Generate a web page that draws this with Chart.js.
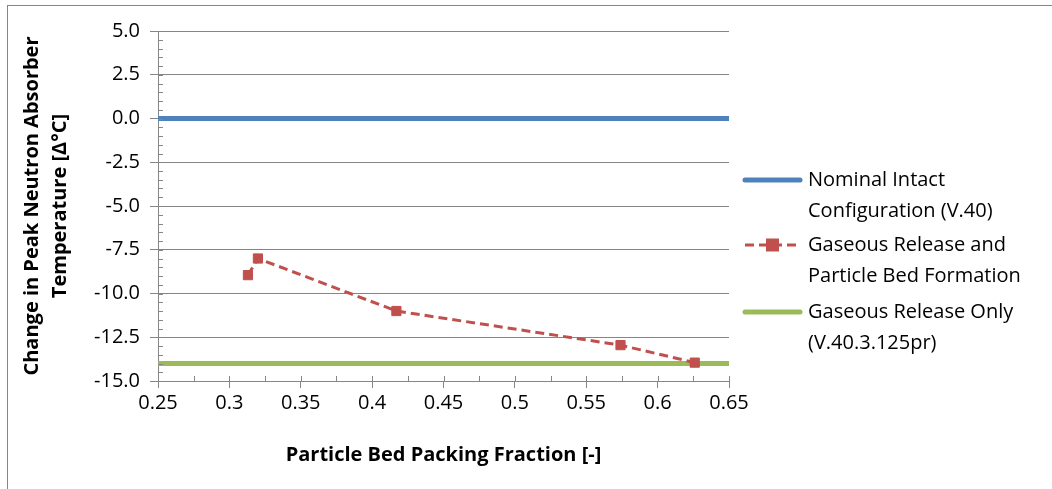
<!DOCTYPE html>
<html>
<head>
<meta charset="utf-8">
<script src="https://cdn.jsdelivr.net/npm/chart.js@4"></script>
<style>
	body { margin: 0; background: #fff; overflow: hidden; }
	#wrap { position: absolute; left: 0; top: 0; width: 1052px; height: 489px; }
	#frame { position: absolute; left: 7px; top: 5px; width: 1100px; height: 600px; border: 1.5px solid #868686; }
</style>
</head>
<body>
<div id="frame"></div>
<div id="wrap"><canvas id="chart"></canvas></div>
<script>
// values
const packingFraction = [0.313, 0.320, 0.417, 0.574, 0.626];
const bedFormationDelta = [-8.95, -8.0, -11.0, -12.95, -13.95];
const nominalX = [0.25, 0.65];
const nominalDelta = [0, 0];
const gasOnlyX = [0.25, 0.65];
const gasOnlyDelta = [-14, -14];

const legendText = [
	['Nominal Intact', 'Configuration (V.40)'],
	['Gaseous Release and', 'Particle Bed Formation'],
	['Gaseous Release Only', '(V.40.3.125pr)'],
];

const FONT = "'Open Sans', sans-serif";
const GRID = '#868686';

const toPoints = (xs, ys) => xs.map((x, i) => ({ x: x, y: ys[i] }));

// minor ticks like the spreadsheet axes
const minorTicks = {
	id: 'minorTicks',
	afterDraw(chart) {
		const ctx = chart.ctx;
		const xs = chart.scales.x, ys = chart.scales.y;
		const ax = xs.left, ay = ys.bottom;
		ctx.save();
		ctx.strokeStyle = GRID;
		ctx.lineWidth = 1;
		ctx.beginPath();
		for (let i = 0; i <= 40; i++) {
			const v = -15 + i * 0.5;
			const py = Math.round(ys.getPixelForValue(v)) + 0.5;
			ctx.moveTo(ax, py);
			ctx.lineTo(ax + 5, py);
		}
		for (let i = 0; i <= 16; i++) {
			const v = 0.25 + i * 0.025;
			const px = Math.round(xs.getPixelForValue(v)) + 0.5;
			ctx.moveTo(px, ay);
			ctx.lineTo(px, ay - 5);
		}
		ctx.stroke();
		ctx.restore();
	}
};

// two-line legend on the right
const sideLegend = {
	id: 'sideLegend',
	afterDraw(chart) {
		const ctx = chart.ctx;
		const rows = [180, 245, 312];
		const x0 = 745, x1 = 800, tx = 808, lh = 31;
		ctx.save();
		ctx.font = '20px ' + FONT;
		ctx.fillStyle = '#000';
		ctx.textBaseline = 'middle';
		chart.data.datasets.forEach((ds, i) => {
			const y = rows[i];
			ctx.strokeStyle = ds.borderColor;
			ctx.lineWidth = ds.borderWidth;
			ctx.setLineDash(ds.borderDash || []);
			ctx.lineCap = ds.borderDash ? 'butt' : 'round';
			ctx.beginPath();
			ctx.moveTo(x0, y);
			ctx.lineTo(x1, y);
			ctx.stroke();
			ctx.setLineDash([]);
			if (ds.pointRadius) {
				const r = ds.pointRadius;
				ctx.fillStyle = ds.pointBackgroundColor;
				ctx.fillRect((x0 + x1) / 2 - r, y - r, 2 * r, 2 * r);
				ctx.fillStyle = '#000';
			}
			legendText[i].forEach((t, j) => ctx.fillText(t, tx, y + j * lh));
		});
		ctx.restore();
	}
};

const config = {
	type: 'line',
	data: {
		datasets: [
			{
				label: 'Nominal Intact Configuration (V.40)',
				data: toPoints(nominalX, nominalDelta),
				borderColor: '#4F81BD',
				borderWidth: 5,
				pointRadius: 0,
				borderCapStyle: 'butt',
			},
			{
				label: 'Gaseous Release and Particle Bed Formation',
				data: toPoints(packingFraction, bedFormationDelta),
				borderColor: '#C0504D',
				borderWidth: 3,
				borderDash: [9, 5],
				pointStyle: 'rect',
				pointRadius: 6.5,
				pointBackgroundColor: '#C0504D',
				pointBorderColor: '#C0504D',
				pointBorderWidth: 1,
			},
			{
				label: 'Gaseous Release Only (V.40.3.125pr)',
				data: toPoints(gasOnlyX, gasOnlyDelta),
				borderColor: '#9BBB59',
				borderWidth: 5,
				pointRadius: 0,
				borderCapStyle: 'butt',
			},
		],
	},
	options: {
		responsive: true,
		maintainAspectRatio: false,
		animation: false,
		layout: {
			padding: { left: 18, right: 323, top: 31, bottom: 22 },
		},
		plugins: {
			legend: { display: false },
			tooltip: { enabled: false },
		},
		scales: {
			x: {
				type: 'linear',
				min: 0.25,
				max: 0.65,
				afterFit: (s) => { s.height = 489 - 381 - 22; },
				ticks: {
					stepSize: 0.05,
					color: '#000',
					font: { family: FONT, size: 20 },
					padding: 3,
					maxRotation: 0,
					callback: (v) => String(+v.toFixed(2)),
				},
				grid: { drawOnChartArea: false, drawTicks: true, tickLength: 7, color: GRID },
				border: { color: GRID },
				title: {
					display: true,
					text: 'Particle Bed Packing Fraction [-]',
					color: '#000',
					font: { family: FONT, size: 20, weight: 'bold' },
					padding: 0,
				},
			},
			y: {
				min: -15,
				max: 5,
				afterFit: (s) => { s.width = 158 - 18; },
				ticks: {
					stepSize: 2.5,
					color: '#000',
					font: { family: FONT, size: 20 },
					padding: 10,
					callback: (v) => v.toFixed(1),
				},
				grid: { color: GRID, tickLength: 8 },
				border: { color: GRID },
				title: {
					display: true,
					text: ['Change in Peak Neutron Absorber', 'Temperature [\u0394\u00b0C]'],
					color: '#000',
					font: { family: FONT, size: 20, weight: 'bold', lineHeight: 1.4 },
					padding: 0,
				},
			},
		},
	},
	plugins: [minorTicks, sideLegend],
};

document.addEventListener('DOMContentLoaded', () => {
	const ctx = document.getElementById('chart');
	new Chart(ctx, config);
});
</script>
</body>
</html>
